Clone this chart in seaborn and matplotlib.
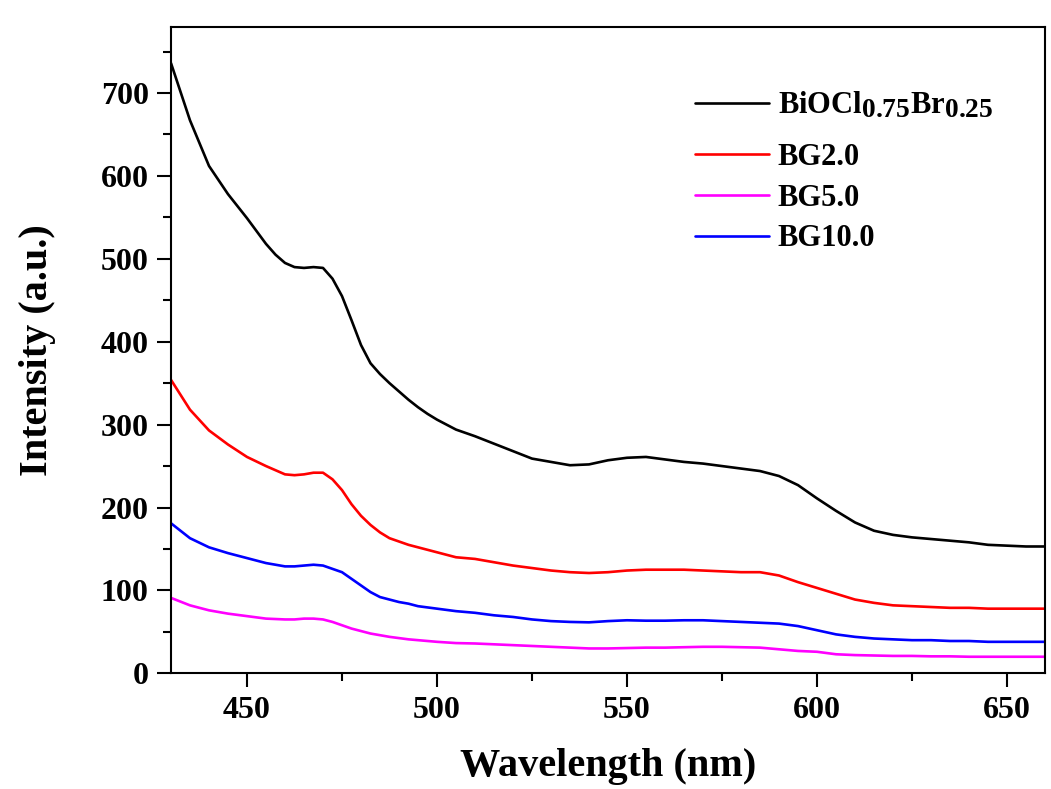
import matplotlib
matplotlib.use("Agg")
import matplotlib.pyplot as plt
import matplotlib._mathtext as mathtext_internal
from matplotlib.ticker import MultipleLocator
import seaborn as sns
import pandas as pd

# wavelength grid (nm): finer around the 470 nm shoulder
wavelength = [430, 435, 440, 445, 450, 455,
              457.5, 460, 462.5, 465, 467.5, 470, 472.5, 475, 477.5,
              480, 482.5, 485, 487.5, 490, 492.5, 495, 497.5, 500,
              505, 510, 515, 520, 525, 530, 535, 540, 545, 550,
              555, 560, 565, 570, 575, 580, 585, 590, 595, 600,
              605, 610, 615, 620, 625, 630, 635, 640, 645, 650,
              655, 660]

bioclbr = [736, 667, 612, 578, 549, 518,
           505, 495, 490, 489, 490, 489, 476, 455, 426,
           396, 374, 361, 350, 340, 330, 321, 313, 306,
           294, 286, 277, 268, 259, 255, 251, 252, 257, 260,
           261, 258, 255, 253, 250, 247, 244, 238, 227, 211,
           196, 182, 172, 167, 164, 162, 160, 158, 155, 154,
           153, 153]
bg2 = [354, 318, 293, 276, 261, 250,
       245, 240, 239, 240, 242, 242, 234, 221, 204,
       190, 179, 170, 163, 159, 155, 152, 149, 146,
       140, 138, 134, 130, 127, 124, 122, 121, 122, 124,
       125, 125, 125, 124, 123, 122, 122, 118, 110, 103,
       96, 89, 85, 82, 81, 80, 79, 79, 78, 78,
       78, 78]
bg5 = [91, 82, 76, 72, 69, 66,
       65.5, 65, 65, 66, 66, 65, 62, 58, 54,
       51, 48, 46, 44, 42.5, 41, 40, 39, 38,
       36.5, 36, 35, 34, 33, 32, 31, 30, 30, 30.5,
       31, 31, 31.5, 32, 32, 31.5, 31, 29, 27, 26,
       23, 22, 21.5, 21, 21, 20.5, 20.5, 20, 20, 20,
       20, 20]
bg10 = [181, 163, 152, 145, 139, 133,
        131, 129, 129, 130, 131, 130, 126, 122, 114,
        106, 98, 92, 89, 86, 84, 81, 79.5, 78,
        75, 73, 70, 68, 65, 63, 62, 61.5, 63, 64,
        63.5, 63.5, 64, 64, 63, 62, 61, 60, 57, 52,
        47, 44, 42, 41, 40, 40, 39, 39, 38, 38,
        38, 38]

labels = [r"BiOCl$_{\mathbf{0.75}}$Br$_{\mathbf{0.25}}$", "BG2.0", "BG5.0", "BG10.0"]
colors = ["black", "red", "magenta", "blue"]

frames = []
for lab, vals in zip(labels, [bioclbr, bg2, bg5, bg10]):
    frames.append(pd.DataFrame({"Wavelength": wavelength, "Intensity": vals, "sample": lab}))
df = pd.concat(frames, ignore_index=True)

sns.set_style("ticks")
plt.rcParams["font.family"] = ["Liberation Serif", "DejaVu Serif"]
plt.rcParams["font.weight"] = "bold"
plt.rcParams["text.color"] = "black"
plt.rcParams["axes.labelcolor"] = "black"
plt.rcParams["axes.edgecolor"] = "black"
plt.rcParams["xtick.color"] = "black"
plt.rcParams["ytick.color"] = "black"
plt.rcParams["mathtext.fontset"] = "custom"
plt.rcParams["mathtext.rm"] = "Liberation Serif:bold"
plt.rcParams["mathtext.bf"] = "Liberation Serif:bold"
plt.rcParams["mathtext.it"] = "Liberation Serif:bold:italic"
# subscripts in the legend are nearly full size
mathtext_internal.SHRINK_FACTOR = 0.9

fig = plt.figure(figsize=(10.51, 7.89), dpi=100)
ax = fig.add_axes([0.1627, 0.1466, 0.8316, 0.8196])

sns.lineplot(data=df, x="Wavelength", y="Intensity", hue="sample",
             palette=dict(zip(labels, colors)), linewidth=1.9, ax=ax)

ax.set_xlim(430, 660)
ax.set_ylim(0, 780)
ax.xaxis.set_major_locator(MultipleLocator(50))
ax.xaxis.set_minor_locator(MultipleLocator(25))
ax.yaxis.set_major_locator(MultipleLocator(100))
ax.yaxis.set_minor_locator(MultipleLocator(50))
ax.tick_params(which="major", direction="out", length=10, width=1.5,
               labelsize=23, pad=6, top=False, right=False, colors="black")
ax.tick_params(which="minor", direction="out", length=6, width=1.5,
               top=False, right=False, colors="black")
for lbl in ax.get_xticklabels() + ax.get_yticklabels():
    lbl.set_fontweight("bold")
for sp in ax.spines.values():
    sp.set_linewidth(1.5)
    sp.set_color("black")
    sp.set_visible(True)

ax.set_xlabel("Wavelength (nm)", fontsize=29, fontweight="bold", labelpad=17)
ax.set_ylabel("Intensity (a.u.)", fontsize=29, fontweight="bold", labelpad=32)

# legend: first entry is taller (subscripts), so it sits in its own box
handles, _ = ax.get_legend_handles_labels()
leg_kw = dict(loc="upper left", frameon=False, borderpad=0, borderaxespad=0,
              prop={"family": "Liberation Serif", "weight": "bold", "size": 22},
              handlelength=2.4, handletextpad=0.3, labelspacing=0.38)
leg1 = ax.legend(handles[:1], labels[:1], bbox_to_anchor=(0.6, 0.902), **leg_kw)
ax.add_artist(leg1)
ax.legend(handles[1:], labels[1:], bbox_to_anchor=(0.6, 0.82), **leg_kw)

fig.savefig("out.png", dpi=100, facecolor="white")
